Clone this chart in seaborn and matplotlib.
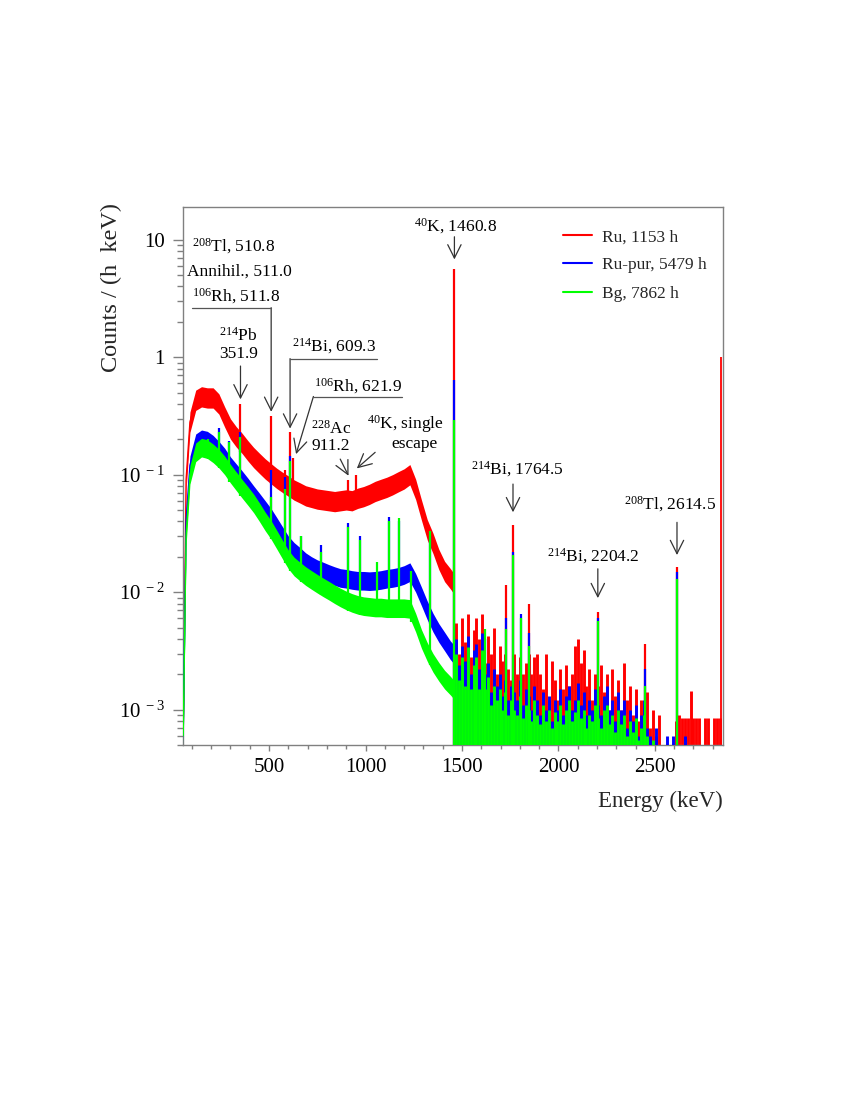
import numpy as np
import matplotlib
matplotlib.use("Agg")
import matplotlib.pyplot as plt
from matplotlib.lines import Line2D
import seaborn as sns

# ---------------- data ----------------
series_names = ["Ru, 1153 h", "Ru-pur, 5479 h", "Bg, 7862 h"]

# smooth continuum (keV, counts/(h keV)) below the 1460.8 keV line
energy_cont = [55, 70, 90, 120, 150, 180, 210, 240, 270, 300, 330, 360, 390, 420,
               450, 480, 510, 540, 570, 600, 630, 660, 690, 720, 750, 780, 810,
               840, 870, 900, 930, 960, 990, 1020, 1050, 1080, 1110, 1140, 1170,
               1200, 1230, 1260, 1290, 1320, 1350, 1380, 1410, 1440, 1455]
ru_cont = [0.0006, 0.09, 0.28, 0.43, 0.46, 0.45, 0.45, 0.40, 0.31, 0.245, 0.21,
           0.185, 0.16, 0.14, 0.125, 0.112, 0.102, 0.093, 0.086, 0.080, 0.074,
           0.070, 0.066, 0.064, 0.062, 0.061, 0.060, 0.059, 0.060, 0.061, 0.060,
           0.063, 0.065, 0.068, 0.072, 0.075, 0.078, 0.082, 0.087, 0.092, 0.100,
           0.075, 0.050, 0.034, 0.026, 0.019, 0.015, 0.013, 0.012]
rupur_cont = [0.0006, 0.04, 0.12, 0.185, 0.20, 0.195, 0.18, 0.16, 0.14, 0.118,
              0.103, 0.090, 0.078, 0.067, 0.058, 0.050, 0.043, 0.036, 0.030,
              0.025, 0.022, 0.020, 0.018, 0.0167, 0.0157, 0.015, 0.0143, 0.0137,
              0.0132, 0.013, 0.0127, 0.0125, 0.0125, 0.0124, 0.0125, 0.0127,
              0.013, 0.0132, 0.0135, 0.014, 0.0148, 0.012, 0.0092, 0.007,
              0.0055, 0.0045, 0.0038, 0.0032, 0.003]
bg_cont = [0.0006, 0.03, 0.10, 0.155, 0.17, 0.165, 0.152, 0.137, 0.12, 0.102,
           0.088, 0.076, 0.066, 0.057, 0.048, 0.040, 0.034, 0.028, 0.023, 0.019,
           0.0165, 0.015, 0.0137, 0.0127, 0.0118, 0.011, 0.0103, 0.0096, 0.009,
           0.0085, 0.0081, 0.0078, 0.0076, 0.0075, 0.0074, 0.0074, 0.0073,
           0.0073, 0.0073, 0.0073, 0.0072, 0.0055, 0.004, 0.0031, 0.0025,
           0.0021, 0.0018, 0.0016, 0.0015]
# bin-to-bin scatter of the continuum (multiplicative half width)
ru_spread, rupur_spread, bg_spread = 1.22, 1.2, 1.2

# sparse high-energy region, 15 keV bins, values in 1e-3 counts/(h keV)
energy_high = list(range(1470, 2836, 15))
ru_high = [5.5, 3.0, 6.0, 3.8, 6.5, 2.8, 4.8, 6.0, 4.0, 6.5,
           2.5, 4.2, 3.0, 5.0, 2.0, 3.5, 2.6, 3.0, 2.2, 1.8,
           3.0, 2.0, 2.8, 2.0, 2.5, 3.0, 2.0, 2.8, 3.0, 2.0,
           1.5, 3.0, 1.2, 2.6, 1.8, 1.2, 2.2, 1.5, 2.4, 1.6,
           2.0, 3.5, 4.0, 2.5, 3.2, 1.6, 2.2, 1.2, 2.0, 1.6,
           2.4, 1.4, 2.0, 1.0, 2.2, 1.3, 1.8, 1.0, 2.5, 1.2,
           1.6, 0.9, 1.5, 0.8, 1.2, 1.0, 1.4, 0.7, 1.0, 0.6,
           0.9, 0, 0, 0, 0, 0, 0.8, 0.9, 0.85, 0.85,
           0.85, 1.45, 0.85, 0.85, 0.85, 0, 0.85, 0.85, 0, 0.85,
           0.85, 0.85]
rupur_high = [4.0, 2.4, 3.5, 2.6, 4.2, 2.0, 3.2, 3.6, 2.2, 4.5,
              2.0, 2.5, 1.4, 2.2, 1.6, 2.0, 1.3, 1.8, 1.2, 1.6,
              1.4, 1.2, 1.8, 1.1, 1.5, 1.3, 1.0, 1.6, 1.2, 0.9,
              1.4, 1.0, 1.3, 0.8, 1.2, 1.0, 1.5, 0.9, 1.3, 1.6,
              1.0, 1.2, 1.7, 1.1, 1.4, 0.9, 1.2, 1.0, 1.5, 1.1,
              0.9, 1.3, 1.6, 1.0, 1.2, 0.8, 1.4, 1.0, 1.2, 0.7,
              1.0, 0.8, 1.1, 0.6, 0.9, 1.2, 0.7, 0.6, 0, 0.7,
              0, 0, 0, 0.6, 0, 0.6, 0, 0, 0, 0.6,
              0, 0, 0, 0, 0, 0, 0, 0, 0, 0,
              0, 0]
bg_high = [3.0, 1.8, 2.8, 1.6, 3.4, 1.5, 2.4, 2.8, 1.5, 3.2,
           1.5, 1.9, 1.1, 1.6, 1.2, 1.5, 1.0, 1.4, 0.9, 1.2,
           1.0, 0.9, 1.3, 0.85, 1.1, 1.0, 0.8, 1.2, 0.9, 0.75,
           1.1, 0.8, 1.0, 0.7, 0.95, 0.8, 1.1, 0.75, 1.0, 1.2,
           0.8, 0.95, 1.2, 0.85, 1.0, 0.7, 0.9, 0.8, 1.1, 0.85,
           0.7, 1.0, 1.1, 0.75, 0.9, 0.65, 1.0, 0.75, 0.9, 0.6,
           0.8, 0.65, 0.85, 0.55, 0.7, 0.9, 0.6, 0, 0.55, 0,
           0, 0, 0, 0, 0, 0, 0, 0, 0, 0,
           0, 0, 0, 0, 0, 0, 0, 0, 0, 0,
           0, 0]

# gamma lines: energy (keV) and peak height per series (nan = not visible)
nan = float("nan")
peak_energy = [186, 239, 295, 352, 511, 583, 609, 622, 665, 768, 911, 950, 969,
               1060, 1120, 1173, 1238, 1332, 1460.8, 1620, 1730, 1764.5, 1807,
               1847, 2204.2, 2448, 2614.5]
ru_peak = [nan, nan, nan, 0.40, 0.316, 0.11, 0.23, 0.14, nan, nan, 0.091, 0.10,
           nan, nan, nan, nan, nan, nan, 5.6, nan, 0.0114, 0.037, nan, 0.008,
           0.0068, 0.0036, 0.0163]
rupur_peak = [0.215, 0.25, 0.195, 0.23, 0.11, 0.095, 0.145, nan, 0.03, 0.025,
              0.039, nan, 0.03, nan, 0.044, 0.04, 0.016, 0.03, 0.64, 0.004,
              0.006, 0.0218, 0.0065, 0.0045, 0.006, 0.0022, 0.0149]
bg_peak = [0.2, 0.23, 0.19, 0.21, 0.065, 0.075, 0.13, nan, 0.03, 0.022, 0.036,
           nan, 0.028, 0.018, 0.04, 0.043, 0.015, 0.033, 0.29, 0.0049, 0.0049,
           0.0207, 0.006, 0.0035, 0.0057, 0.0016, 0.0129]

# histogram edges of the Ru spectrum drawn up to 1
ru_edge_energy = [56, 2844]
ru_edge_level = 1.0

# ---------------- style ----------------
sns.set_theme(style="white")
plt.rcParams["font.family"] = ["Liberation Serif", "DejaVu Serif"]
plt.rcParams["mathtext.fontset"] = "custom"
plt.rcParams["mathtext.rm"] = "Liberation Serif"
plt.rcParams["mathtext.it"] = "Liberation Serif:italic"
plt.rcParams["mathtext.bf"] = "Liberation Serif:bold"

colors = ["#ff0000", "#0000ff", "#00ff00"]
FLOOR = 1e-5

fig = plt.figure(figsize=(8.5, 11), dpi=100)
fig.patch.set_facecolor("white")
ax = fig.add_axes([183 / 850, 1 - 745 / 1100, 540 / 850, 538 / 1100])
ax.set_facecolor("white")
ax.set_yscale("log")

E_cont = np.asarray(energy_cont, float)
E_high = np.asarray(energy_high, float)
P_E = np.asarray(peak_energy, float)


def draw_series(cont, spread, high, peaks, color, z):
    cont = np.asarray(cont, float)
    lo, hi = cont / spread, cont * spread
    ax.fill_between(E_cont, lo, hi, color=color, lw=0, zorder=z)
    sns.lineplot(x=E_cont, y=cont, color=color, lw=1.0, ax=ax, zorder=z)
    h = np.asarray(high, float) * 1e-3
    m = h > 0
    ax.vlines(E_high[m], FLOOR, h[m], color=color, lw=2.1, zorder=z)
    pv = np.asarray(peaks, float)
    m = ~np.isnan(pv)
    base = np.where(P_E[m] < 1455, np.interp(P_E[m], E_cont, lo), FLOOR)
    ax.vlines(P_E[m], base, pv[m], color=color, lw=1.6, zorder=z)


ax.vlines(ru_edge_energy, FLOOR, ru_edge_level, color=colors[0], lw=1.3, zorder=2)
draw_series(ru_cont, ru_spread, ru_high, ru_peak, colors[0], 2)
draw_series(rupur_cont, rupur_spread, rupur_high, rupur_peak, colors[1], 3)
draw_series(bg_cont, bg_spread, bg_high, bg_peak, colors[2], 4)

ax.set_xlim(54, 2853)
ax.set_ylim(5e-4, 19)

# ticks
ax.set_xticks([500, 1000, 1500, 2000, 2500])
ax.set_xticklabels(["500", "1000", "1500", "2000", "2500"])
ax.xaxis.set_minor_locator(matplotlib.ticker.MultipleLocator(100))
ax.set_yticks([1e-3, 1e-2, 1e-1, 1, 10])
ax.set_yticklabels([r"$10^{\ -3}$", r"$10^{\ -2}$", r"$10^{\ -1}$", "1", "10"])
ax.yaxis.set_minor_locator(matplotlib.ticker.LogLocator(base=10, subs=np.arange(2, 10)))
ax.yaxis.set_minor_formatter(matplotlib.ticker.NullFormatter())
ax.tick_params(axis="both", which="both", direction="out", color="#808080",
               labelsize=15, labelcolor="black")
ax.tick_params(axis="x", which="major", length=4, width=1, pad=5)
ax.tick_params(axis="x", which="minor", length=3, width=1)
ax.tick_params(axis="y", which="major", length=7, width=1, pad=6)
ax.tick_params(axis="y", which="minor", length=4, width=1)
ax.tick_params(bottom=True, left=True, which="both")
for s in ax.spines.values():
    s.set_color("#808080")
    s.set_linewidth(1.0)
ax.grid(False)

ax.set_xlabel("Energy (keV)", fontsize=16.5, loc="right", labelpad=10)
ax.set_ylabel("Counts / (h  keV)", fontsize=17.5, loc="top")
ax.yaxis.set_label_coords(-0.113, 1.008)

# legend
handles = [Line2D([0], [0], color=c, lw=1.5) for c in colors]
ax.legend(handles, series_names, loc="upper left", bbox_to_anchor=(0.69, 0.972),
          frameon=False, fontsize=12.5, handlelength=1.7, handletextpad=0.6,
          labelspacing=0.7, borderaxespad=0)

# annotations
FS = 12.5
txt = dict(fontsize=FS, color="black", zorder=6)
texts = [
    (r"$^{40}$K, 1460.8", 1465, 13.0, "center"),
    (r"$^{214}$Bi, 1764.5", 1790, 0.1116, "center"),
    (r"$^{214}$Bi, 2204.2", 2182, 0.0202, "center"),
    (r"$^{208}$Tl, 2614.5", 2577, 0.0562, "center"),
    (r"$^{208}$Tl, 510.8", 100, 8.8, "left"),
    ("Annihil., 511.0", 74, 5.4, "left"),
    (r"$^{106}$Rh, 511.8", 100, 3.31, "left"),
    (r"$^{214}$Pb", 340, 1.51, "center"),
    ("351.9", 340, 1.06, "center"),
    (r"$^{214}$Bi, 609.3", 618, 1.245, "left"),
    (r"$^{106}$Rh, 621.9", 735, 0.569, "left"),
    (r"$^{228}$Ac", 822, 0.244, "center"),
    ("911.2", 822, 0.176, "center"),
    (r"$^{40}$K, single", 1008, 0.272, "left"),
    ("escape", 1133, 0.183, "left"),
]
for s, x, y, ha in texts:
    ax.text(x, y, s, ha=ha, va="center", **txt)

arrows = [
    ((1460.8, 10.6), (1460.8, 6.8)),
    ((1764.5, 0.0832), (1764.5, 0.0479)),
    ((2204.2, 0.0158), (2204.2, 0.0089)),
    ((2614.5, 0.0393), (2614.5, 0.0207)),
    ((352, 0.841), (352, 0.438)),
    ((511, 2.64), (511, 0.343)),
    ((609, 0.973), (609, 0.247)),
    ((730, 0.463), (640, 0.1496)),
    ((869, 0.1357), (912, 0.098)),
    ((1050, 0.155), (955, 0.1131)),
]
for tail, tip in arrows:
    ax.annotate("", xy=tip, xytext=tail, zorder=6,
                arrowprops=dict(arrowstyle="->, head_length=0.6, head_width=0.3",
                                color="#333333", lw=0.9, mutation_scale=16,
                                shrinkA=0, shrinkB=0))
brackets = [((100, 511), (2.64, 2.64)), ((609, 1059), (0.973, 0.973)),
            ((730, 1188), (0.463, 0.463))]
for xs, ys in brackets:
    ax.plot(xs, ys, color="#555555", lw=0.9, zorder=6)

fig.savefig("out.png", dpi=100, facecolor="white")
